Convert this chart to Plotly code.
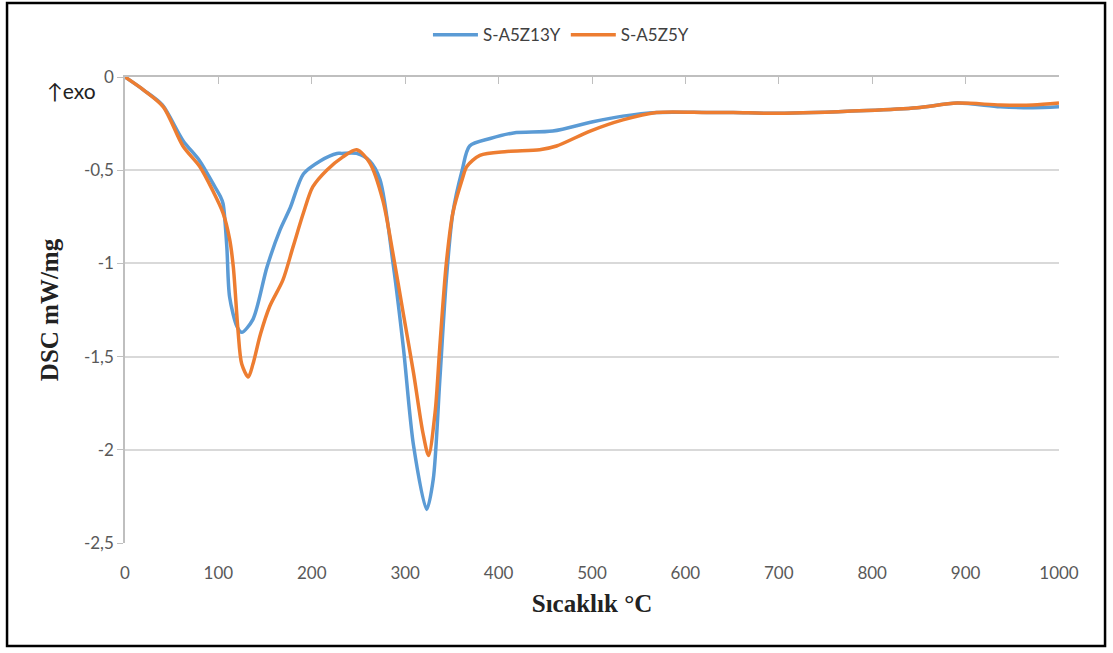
import plotly.graph_objects as go

# DSC scans: temperature (°C) vs heat flow (mW/mg)
t_a5z13y = [0, 20, 40, 62, 80, 94, 102, 105, 109, 112, 120, 125, 137, 152, 166, 177,
            191, 209, 227, 232, 248, 262, 273, 287, 298, 309, 323, 330, 337, 344, 351,
            361, 369, 391, 416, 458, 501, 533, 569, 623, 651, 698, 794, 848, 891, 937,
            972, 1000]
dsc_a5z13y = [0, -0.07, -0.15, -0.34, -0.45, -0.57, -0.64, -0.68, -0.91, -1.18, -1.34,
              -1.37, -1.30, -1.02, -0.82, -0.70, -0.52, -0.45, -0.41, -0.41, -0.41,
              -0.45, -0.55, -1.0, -1.45, -1.98, -2.32, -2.16, -1.63, -1.09, -0.73,
              -0.50, -0.37, -0.33, -0.30, -0.29, -0.24, -0.21, -0.19, -0.19, -0.19,
              -0.195, -0.18, -0.165, -0.14, -0.16, -0.165, -0.16]

t_a5z5y = [0, 20, 41, 62, 80, 94, 105, 112, 116, 121, 125, 132, 137, 145, 155, 169,
           180, 191, 201, 216, 233, 248, 262, 276, 287, 298, 309, 319, 325, 332, 337,
           344, 351, 361, 366, 380, 409, 444, 462, 498, 533, 569, 623, 651, 698, 794,
           848, 891, 937, 972, 1000]
dsc_a5z5y = [0, -0.07, -0.16, -0.37, -0.48, -0.61, -0.73, -0.87, -1.02, -1.36, -1.54,
             -1.61, -1.54, -1.38, -1.23, -1.09, -0.91, -0.73, -0.59, -0.50, -0.43,
             -0.39, -0.46, -0.66, -0.95, -1.27, -1.59, -1.91, -2.03, -1.80, -1.45,
             -1.0, -0.73, -0.55, -0.48, -0.42, -0.40, -0.39, -0.37, -0.29, -0.23,
             -0.19, -0.19, -0.19, -0.195, -0.18, -0.165, -0.14, -0.15, -0.15, -0.14]

x_ticks = [0, 100, 200, 300, 400, 500, 600, 700, 800, 900, 1000]
y_ticks = [0, -0.5, -1, -1.5, -2, -2.5]
y_tick_text = ["0", "-0,5", "-1", "-1,5", "-2", "-2,5"]

BLUE = "#5B9BD5"
ORANGE = "#ED7D31"
GRID = "#D9D9D9"
AXIS = "#BFBFBF"
SANS = "Lato, Open Sans, sans-serif"
SERIF = "Liberation Serif, Times New Roman, serif"
TICKFONT = dict(family=SANS, size=17, color="#595959")

fig = go.Figure()
fig.add_trace(go.Scatter(x=t_a5z13y, y=dsc_a5z13y, mode="lines", name="S-A5Z13Y",
                         line=dict(color=BLUE, width=3.5, shape="spline", smoothing=0.8)))
fig.add_trace(go.Scatter(x=t_a5z5y, y=dsc_a5z5y, mode="lines", name="S-A5Z5Y",
                         line=dict(color=ORANGE, width=3.5, shape="spline", smoothing=0.8)))

fig.update_layout(
    width=1113, height=653,
    margin=dict(l=125, r=54, t=77, b=110, autoexpand=False),
    paper_bgcolor="white", plot_bgcolor="white",
    showlegend=True,
    legend=dict(orientation="h", xref="container", yref="container",
                x=0.504, xanchor="center", y=0.946, yanchor="middle",
                bgcolor="rgba(0,0,0,0)",
                font=dict(family=SANS, size=17, color="#404040"),
                itemwidth=45),
    xaxis=dict(range=[0, 1000], tickvals=x_ticks, showgrid=False, zeroline=False,
               showline=False, ticks="", tickfont=TICKFONT, ticklabelstandoff=18,
               title=dict(text="<b>Sıcaklık °C</b>", standoff=12,
                          font=dict(family=SERIF, size=25, color="#222222"))),
    xaxis2=dict(range=[0, 1000], overlaying="x", side="top", matches="x",
                tickvals=x_ticks, ticks="inside", ticklen=7, tickcolor=AXIS,
                showticklabels=False, showline=True, linecolor=AXIS,
                linewidth=1.5, showgrid=False, zeroline=False),
    yaxis=dict(range=[-2.5, 0], tickvals=y_ticks, ticktext=y_tick_text,
               showgrid=True, gridcolor=GRID, gridwidth=1.5, zeroline=False,
               showline=True, linecolor=AXIS, linewidth=1.5,
               ticks="outside", ticklen=6, tickcolor=AXIS, tickfont=TICKFONT,
               title=dict(text="<b>DSC mW/mg</b>", standoff=18,
                          font=dict(family=SERIF, size=25, color="#222222"))),
)

# empty companion trace so the top axis line with its tick marks is drawn
fig.add_trace(go.Scatter(x=[], y=[], xaxis="x2", showlegend=False, hoverinfo="skip"))

fig.add_annotation(text="↑exo", xref="paper", yref="paper", x=-0.0857, y=0.972,
                   xanchor="left", yanchor="middle", showarrow=False,
                   font=dict(family=SANS, size=21, color="#222222"))

# outer frame around the whole chart
fig.add_shape(type="rect", xref="paper", yref="paper",
              x0=-0.1263, x1=1.0493, y0=-0.2210, y1=1.1588,
              line=dict(color="black", width=2.5), fillcolor="rgba(0,0,0,0)", layer="below")

fig.write_html("out.html")
